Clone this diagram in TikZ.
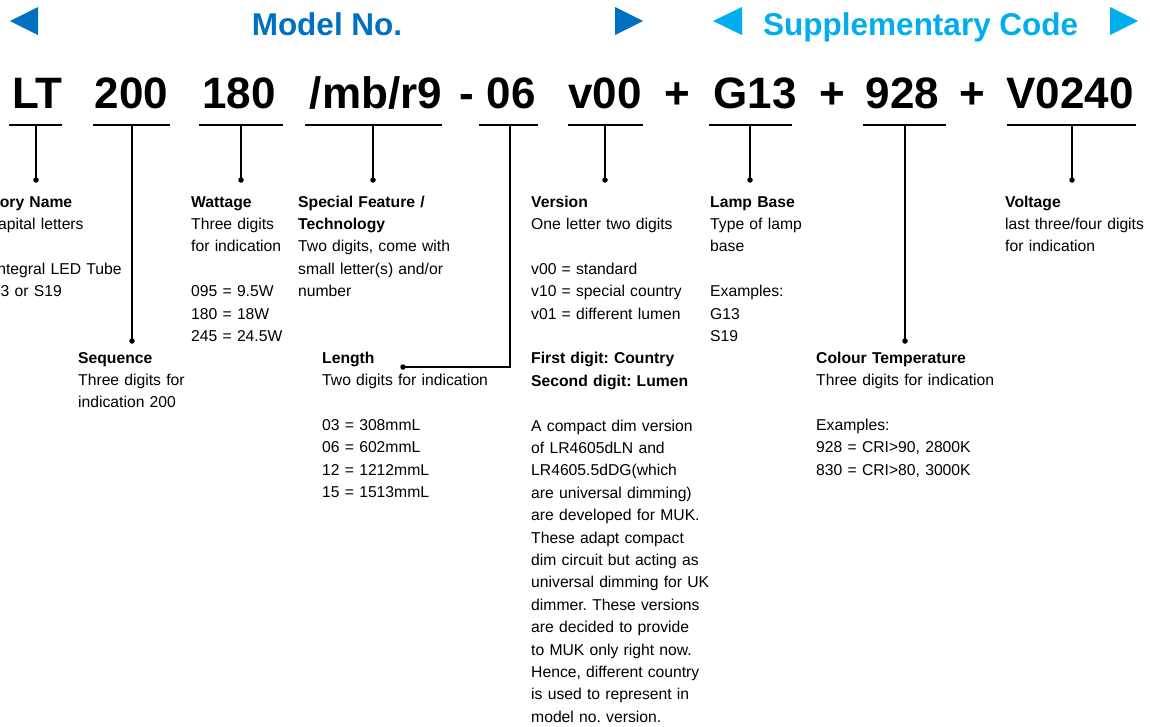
\documentclass[tikz,border=0pt]{standalone}
\usepackage{fontspec}
\setmainfont{Liberation Sans}
\definecolor{mblue}{HTML}{0070C0}
\definecolor{sblue}{HTML}{00AEEF}
\frenchspacing
\begin{document}
\begin{tikzpicture}[x=1pt,y=-1pt,
  codetxt/.style={font=\fontsize{44}{44}\selectfont\bfseries, inner sep=0pt, anchor=base},
  head/.style={font=\fontsize{31.5}{31.5}\selectfont\bfseries, inner sep=0pt, anchor=base},
  desc/.style={font=\fontsize{15.7}{22.4}\selectfont\frenchspacing, inner sep=0pt, anchor=base west, text width=260pt, align=left},
  uline/.style={line width=1.2pt, black},
  dotc/.style={circle, fill=black, inner sep=0pt, minimum size=5.5pt}]
\useasboundingbox (0,0) rectangle (1150,726);
\clip (0,0) rectangle (1150,726);

% header
\fill[mblue] (10,21) -- (38,7) -- (38,35) -- cycle;
\node[head, text=mblue] (model) at (327,35) {Model No.};
\fill[mblue] (615,7) -- (643,21) -- (615,35) -- cycle;
\fill[sblue] (713,21) -- (742,7) -- (742,35) -- cycle;
\node[head, text=sblue, anchor=base west] (supp) at (763,35) {Supplementary Code};
\fill[sblue] (1110,7) -- (1138,21) -- (1110,35) -- cycle;

% code line
\node[codetxt] (cLT) at (37.5,108) {LT};
\node[codetxt] (c200) at (131.5,108) {200};
\node[codetxt] (c180) at (239,108) {180};
\node[codetxt] (cmb) at (376,108) {/mb/r9};
\node[codetxt] (cdash) at (467,108) {-};
\node[codetxt] (c06) at (511,108) {06};
\node[codetxt] (cv) at (605,108) {v00};
\node[codetxt] (p1) at (677,108) {+};
\node[codetxt] (cG) at (755,108) {G13};
\node[codetxt] (p2) at (832,108) {+};
\node[codetxt] (c928) at (902.5,108) {928};
\node[codetxt] (p3) at (972,108) {+};
\node[codetxt] (cV) at (1070,108) {V0240};

% underlines
\draw[uline] (9,125) -- (62,125);
\draw[uline] (93,125) -- (170,125);
\draw[uline] (199,125) -- (283,125);
\draw[uline] (305,125) -- (442,125);
\draw[uline] (479,125) -- (538,125);
\draw[uline] (568,125) -- (643,125);
\draw[uline] (709,125) -- (792,125);
\draw[uline] (863,125) -- (946,125);
\draw[uline] (1007,125) -- (1136,125);

% anchor points on underlines
\coordinate (uLT) at (36,125);
\coordinate (u200) at (132,125);
\coordinate (u180) at (241,125);
\coordinate (umb) at (373,125);
\coordinate (u06) at (510,125);
\coordinate (uv) at (605,125);
\coordinate (uG) at (750,125);
\coordinate (u928) at (905,125);
\coordinate (uV) at (1072,125);
\coordinate (k06) at (510,367);

% dots
\node[dotc] (dLT) at (36,180) {};
\node[dotc] (d200) at (132,341) {};
\node[dotc] (d180) at (241,180) {};
\node[dotc] (dmb) at (373,180) {};
\node[dotc] (d06) at (403,367) {};
\node[dotc] (dv) at (605,180) {};
\node[dotc] (dG) at (750,180) {};
\node[dotc] (d928) at (905,341) {};
\node[dotc] (dV) at (1072,180) {};

% connectors
\draw[uline] (uLT) -- (dLT.center);
\draw[uline] (u200) -- (d200.center);
\draw[uline] (u180) -- (d180.center);
\draw[uline] (umb) -- (dmb.center);
\draw[uline] (u06) -- (k06) -- (d06.center);
\draw[uline] (uv) -- (dv.center);
\draw[uline] (uG) -- (dG.center);
\draw[uline] (u928) -- (d928.center);
\draw[uline] (uV) -- (dV.center);

% descriptions
\node[desc] (tcat) at (-44,207) {\textbf{Category Name}\\Two capital letters\\[22.4pt]LT = Integral LED Tube\\for G13 or S19};
\node[desc] (tseq) at (78,363) {\textbf{Sequence}\\Three digits for\\indication 200};
\node[desc] (twat) at (191,207) {\textbf{Wattage}\\Three digits\\for indication\\[22.4pt]095 = 9.5W\\180 = 18W\\245 = 24.5W};
\node[desc] (tspf) at (298,207) {\textbf{Special Feature /}\\\textbf{Technology}\\Two digits, come with\\small letter(s) and/or\\number};
\node[desc] (tlen) at (322,363) {\textbf{Length}\\Two digits for indication\\[22.4pt]03 = 308mmL\\06 = 602mmL\\12 = 1212mmL\\15 = 1513mmL};
\node[desc] (tver) at (531,207) {\textbf{Version}\\One letter two digits\\[22.4pt]v00 = standard\\v10 = special country\\v01 = different lumen\\[22.4pt]\textbf{First digit: Country}\\\textbf{Second digit: Lumen}\\[22.4pt]A compact dim version\\of LR4605dLN and\\LR4605.5dDG(which\\are universal dimming)\\are developed for MUK.\\These adapt compact\\dim circuit but acting as\\universal dimming for UK\\dimmer. These versions\\are decided to provide\\to MUK only right now.\\Hence, different country\\is used to represent in\\model no. version.};
\node[desc] (tlamp) at (710,207) {\textbf{Lamp Base}\\Type of lamp\\base\\[22.4pt]Examples:\\G13\\S19};
\node[desc] (tcol) at (816,363) {\textbf{Colour Temperature}\\Three digits for indication\\[22.4pt]Examples:\\928 = CRI>90, 2800K\\830 = CRI>80, 3000K};
\node[desc] (tvolt) at (1005,207) {\textbf{Voltage}\\last three/four digits\\for indication};
\end{tikzpicture}
\end{document}
